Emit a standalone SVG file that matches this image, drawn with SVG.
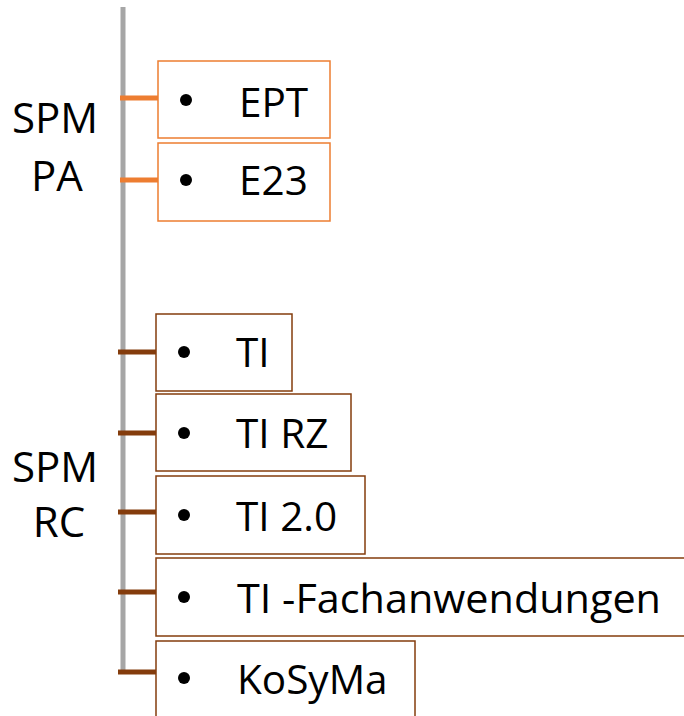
<svg xmlns="http://www.w3.org/2000/svg" width="684" height="716" viewBox="0 0 684 716">
<style>
text{font-family:"Open Sans","Liberation Sans",sans-serif;font-size:40.5px;fill:#000}
.lbl{text-anchor:middle;font-size:42px}
.o{fill:#fff;stroke:#ED7D31;stroke-width:1.5}
.b{fill:#fff;stroke:#843C0C;stroke-width:1.5}
.co{stroke:#ED7D31;stroke-width:5}
.cb{stroke:#843C0C;stroke-width:5}
.dot{fill:#000}
</style>
<rect width="684" height="716" fill="#fff"/>
<g id="spine"><line x1="123" y1="7" x2="123" y2="672" stroke="#A6A6A6" stroke-width="5"/></g>
<g id="labels">
<text class="lbl" x="55" y="133">SPM</text>
<text class="lbl" x="57" y="191">PA</text>
<text class="lbl" x="55" y="482">SPM</text>
<text class="lbl" x="59" y="537">RC</text>
</g>
<g id="connectors">
<line class="co" x1="120" y1="98" x2="158" y2="98"/>
<line class="co" x1="120" y1="180" x2="158" y2="180"/>
<line class="cb" x1="118" y1="352" x2="156" y2="352"/>
<line class="cb" x1="118" y1="433" x2="156" y2="433"/>
<line class="cb" x1="118" y1="512" x2="156" y2="512"/>
<line class="cb" x1="118" y1="592" x2="156" y2="592"/>
<line class="cb" x1="118" y1="672" x2="156" y2="672"/>
</g>
<g id="n-ept"><rect class="o" x="158" y="61" width="172" height="77"/><circle class="dot" cx="186" cy="100" r="6"/><text x="239" y="117">EPT</text></g>
<g id="n-e23"><rect class="o" x="158" y="143" width="172" height="78"/><circle class="dot" cx="186" cy="180" r="6"/><text x="239" y="195">E23</text></g>
<g id="n-ti"><rect class="b" x="156" y="314" width="136" height="77"/><circle class="dot" cx="184" cy="352" r="6"/><text x="236" y="367">TI</text></g>
<g id="n-tirz"><rect class="b" x="156" y="394" width="195" height="77"/><circle class="dot" cx="184" cy="433" r="6"/><text x="236" y="448">TI RZ</text></g>
<g id="n-ti20"><rect class="b" x="156" y="476" width="209" height="78"/><circle class="dot" cx="184" cy="515" r="6"/><text x="236" y="531">TI 2.0</text></g>
<g id="n-tifa"><rect class="b" x="156" y="558" width="540" height="78"/><circle class="dot" cx="184" cy="597" r="6"/><text x="237" y="613" textLength="424" lengthAdjust="spacingAndGlyphs">TI -Fachanwendungen</text></g>
<g id="n-kosyma"><rect class="b" x="156" y="641" width="259" height="90"/><circle class="dot" cx="184" cy="678" r="6"/><text x="237" y="694">KoSyMa</text></g>
</svg>
